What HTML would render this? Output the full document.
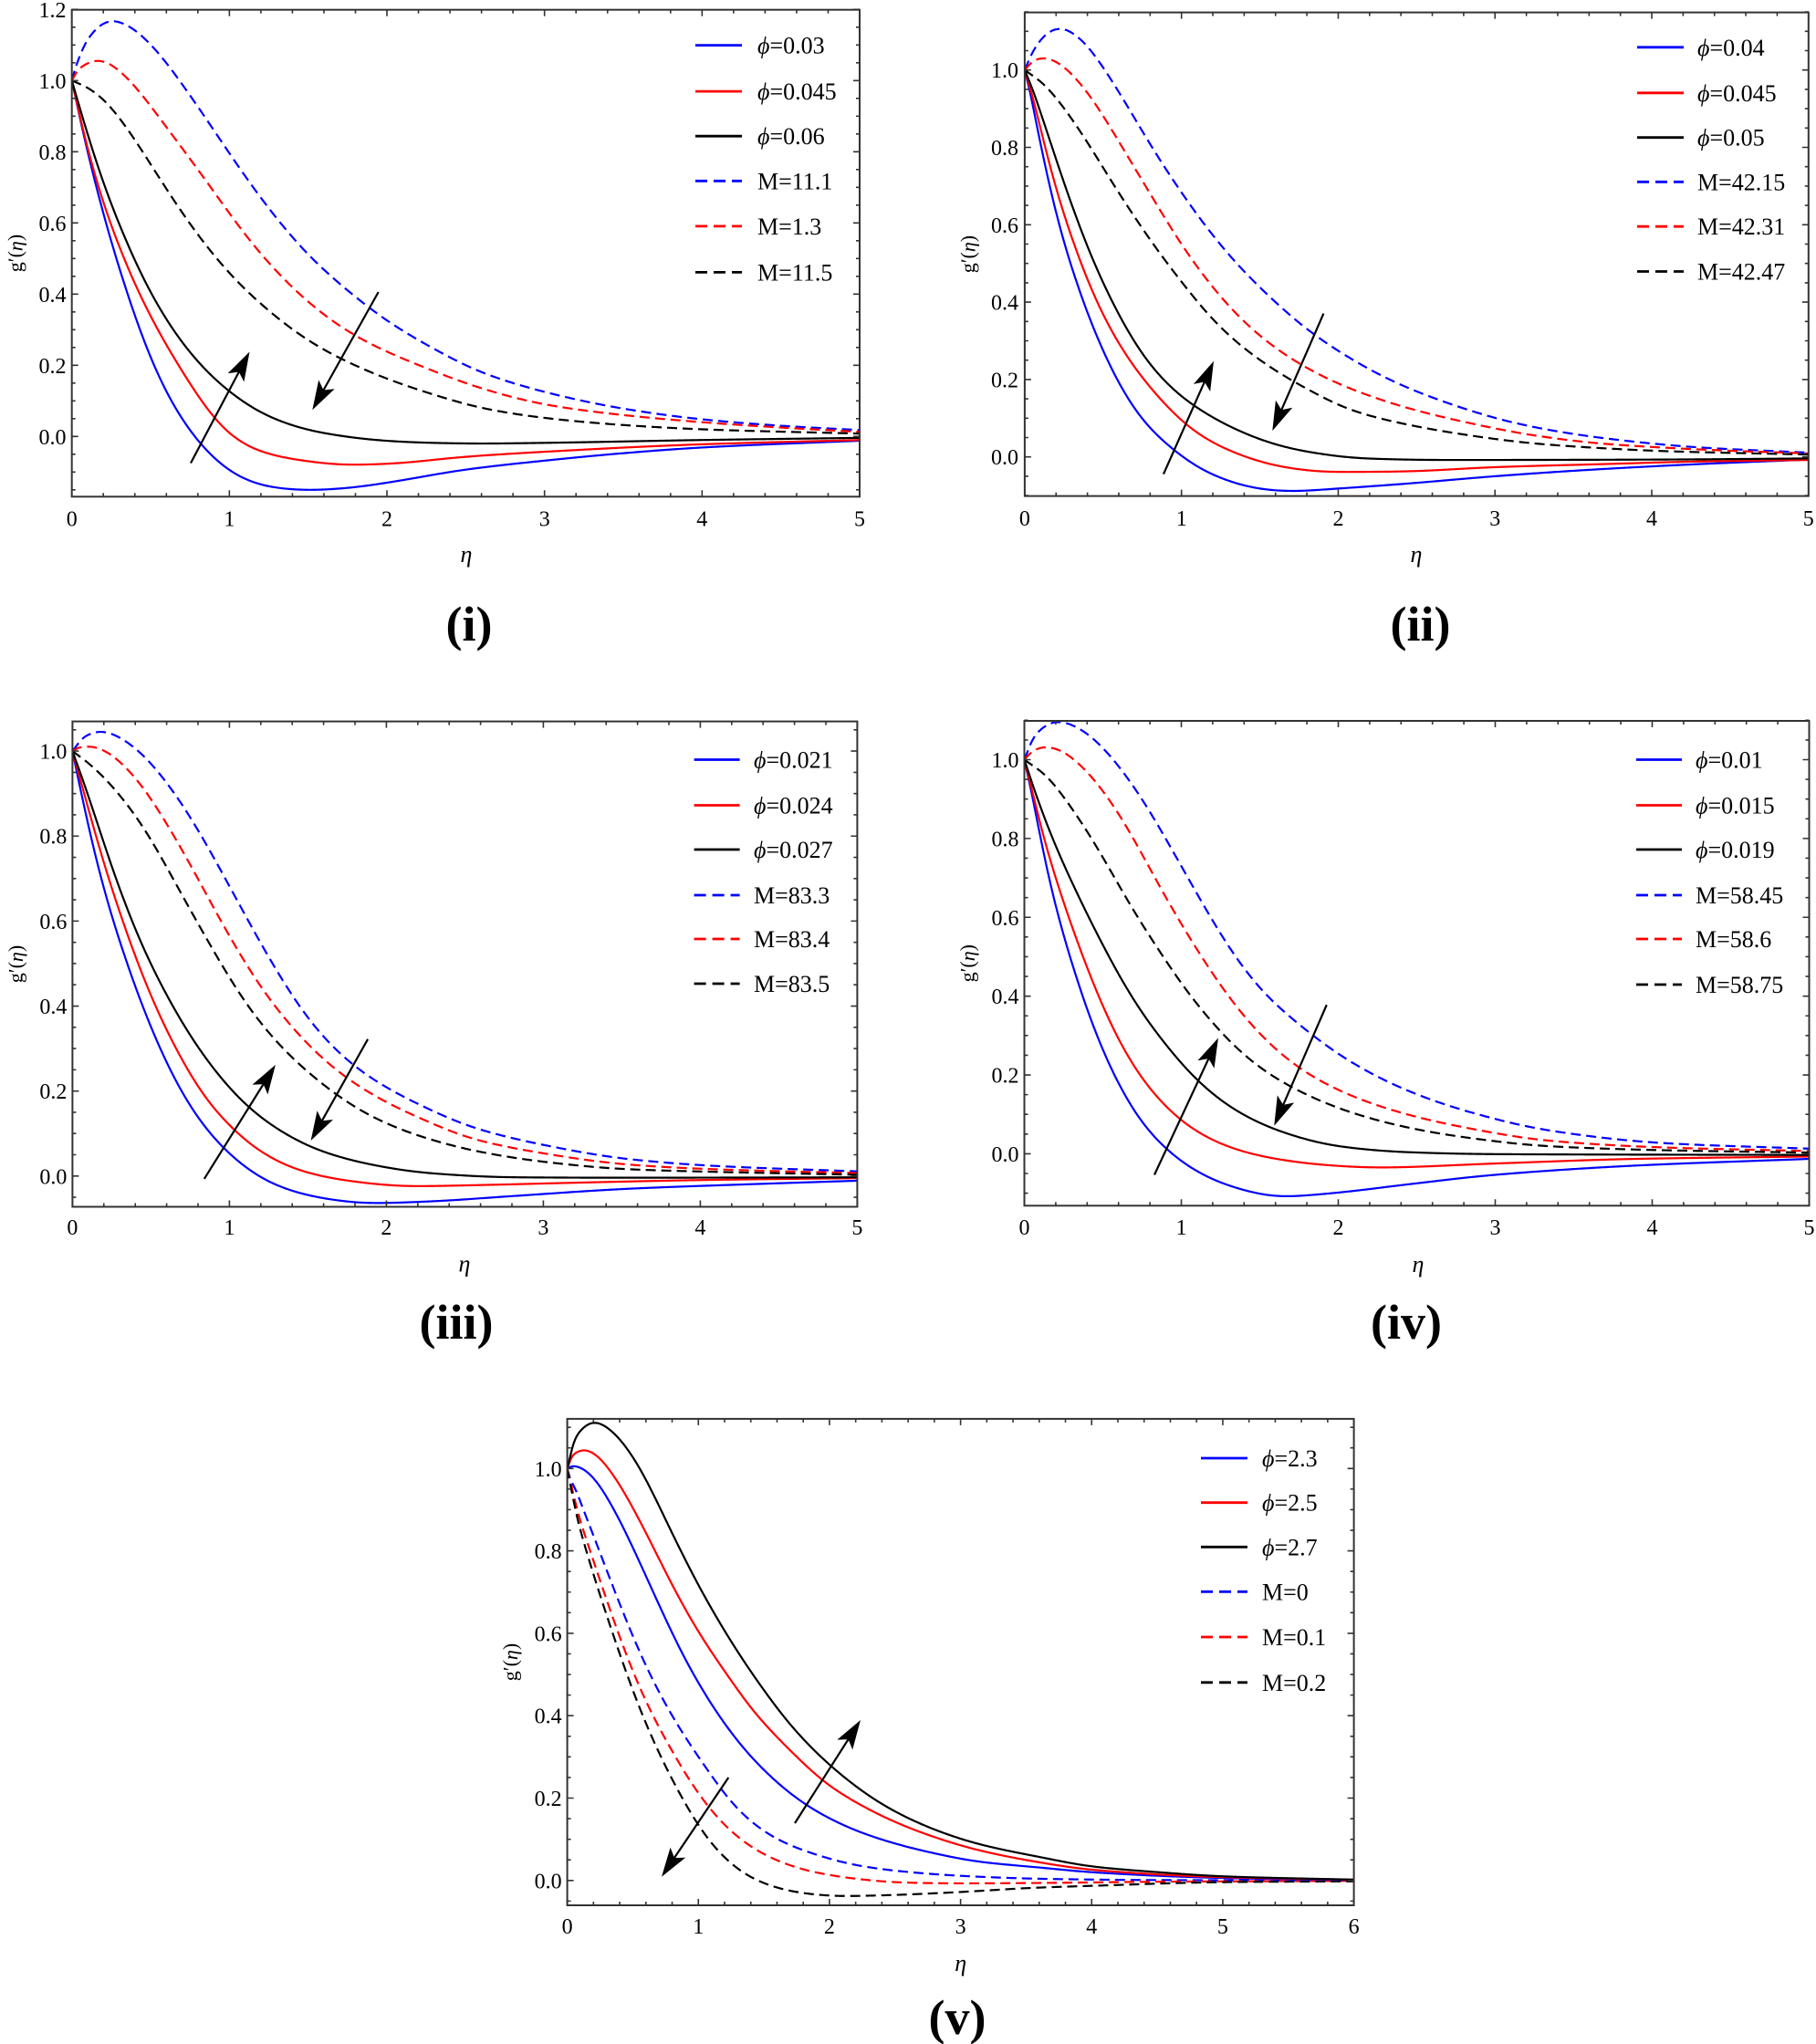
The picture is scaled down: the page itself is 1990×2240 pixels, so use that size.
<!DOCTYPE html>
<html>
<head>
<meta charset="utf-8">
<style>
html,body{margin:0;padding:0;background:#fff;}
svg{display:block;}
text{font-family:"Liberation Serif","DejaVu Serif",serif;fill:#000;}
.t{font-size:24px;}
.lg{font-size:26px;}
.eta{font-size:26px;font-style:italic;}
.yl{font-size:22px;}
.pl{font-size:54px;font-weight:bold;}
</style>
</head>
<body>
<svg id="s" width="1990" height="2240" viewBox="0 0 1990 2240" xmlns="http://www.w3.org/2000/svg">
<rect x="0" y="0" width="1990" height="2240" fill="#fff"/>
<g id="g"></g>

<!-- ===== Panel (i) ===== -->
<g text-anchor="end">
<text class="t" x="72.5" y="486.8">0.0</text>
<text class="t" x="72.5" y="408.8">0.2</text>
<text class="t" x="72.5" y="330.8">0.4</text>
<text class="t" x="72.5" y="252.8">0.6</text>
<text class="t" x="72.5" y="174.8">0.8</text>
<text class="t" x="72.5" y="96.8">1.0</text>
<text class="t" x="72.5" y="18.8">1.2</text>
</g>
<g text-anchor="middle">
<text class="t" x="78.7" y="576.5">0</text>
<text class="t" x="251.4" y="576.5">1</text>
<text class="t" x="424" y="576.5">2</text>
<text class="t" x="596.7" y="576.5">3</text>
<text class="t" x="769.3" y="576.5">4</text>
<text class="t" x="942" y="576.5">5</text>
<text class="eta" x="511" y="616">η</text>
<text class="pl" x="514" y="702">(i)</text>
</g>
<text class="yl" transform="translate(16.5,277.5) rotate(-90)" text-anchor="middle" dominant-baseline="central">g′(<tspan font-style="italic">η</tspan>)</text>
<g>
<text class="lg" x="830" y="58.6"><tspan font-style="italic">ϕ</tspan>=0.03</text>
<text class="lg" x="830" y="109.1"><tspan font-style="italic">ϕ</tspan>=0.045</text>
<text class="lg" x="830" y="158.2"><tspan font-style="italic">ϕ</tspan>=0.06</text>
<text class="lg" x="830" y="207.3">M=11.1</text>
<text class="lg" x="830" y="256.9">M=1.3</text>
<text class="lg" x="830" y="307.4">M=11.5</text>
</g>

<!-- ===== Panel (ii) ===== -->
<g text-anchor="end">
<text class="t" x="1116" y="509.2">0.0</text>
<text class="t" x="1116" y="424.4">0.2</text>
<text class="t" x="1116" y="339.6">0.4</text>
<text class="t" x="1116" y="254.8">0.6</text>
<text class="t" x="1116" y="170">0.8</text>
<text class="t" x="1116" y="85.2">1.0</text>
</g>
<g text-anchor="middle">
<text class="t" x="1122.9" y="576">0</text>
<text class="t" x="1294.7" y="576">1</text>
<text class="t" x="1466.5" y="576">2</text>
<text class="t" x="1638.2" y="576">3</text>
<text class="t" x="1810" y="576">4</text>
<text class="t" x="1981.8" y="576">5</text>
<text class="eta" x="1552" y="616">η</text>
<text class="pl" x="1556.5" y="702">(ii)</text>
</g>
<text class="yl" transform="translate(1060.4,278.6) rotate(-90)" text-anchor="middle" dominant-baseline="central">g′(<tspan font-style="italic">η</tspan>)</text>
<g>
<text class="lg" x="1860" y="60.8"><tspan font-style="italic">ϕ</tspan>=0.04</text>
<text class="lg" x="1860" y="110.8"><tspan font-style="italic">ϕ</tspan>=0.045</text>
<text class="lg" x="1860" y="159.7"><tspan font-style="italic">ϕ</tspan>=0.05</text>
<text class="lg" x="1860" y="208.3">M=42.15</text>
<text class="lg" x="1860" y="257.2">M=42.31</text>
<text class="lg" x="1860" y="306.5">M=42.47</text>
</g>

<!-- ===== Panel (iii) ===== -->
<g text-anchor="end">
<text class="t" x="73.4" y="1297.3">0.0</text>
<text class="t" x="73.4" y="1204.2">0.2</text>
<text class="t" x="73.4" y="1111">0.4</text>
<text class="t" x="73.4" y="1017.9">0.6</text>
<text class="t" x="73.4" y="924.7">0.8</text>
<text class="t" x="73.4" y="831.6">1.0</text>
</g>
<g text-anchor="middle">
<text class="t" x="79.4" y="1353">0</text>
<text class="t" x="251.4" y="1353">1</text>
<text class="t" x="423.4" y="1353">2</text>
<text class="t" x="595.4" y="1353">3</text>
<text class="t" x="767.4" y="1353">4</text>
<text class="t" x="939.4" y="1353">5</text>
<text class="eta" x="509" y="1393.6">η</text>
<text class="pl" x="500" y="1467">(iii)</text>
</g>
<text class="yl" transform="translate(16.9,1056.5) rotate(-90)" text-anchor="middle" dominant-baseline="central">g′(<tspan font-style="italic">η</tspan>)</text>
<g>
<text class="lg" x="826" y="841.5"><tspan font-style="italic">ϕ</tspan>=0.021</text>
<text class="lg" x="826" y="891.5"><tspan font-style="italic">ϕ</tspan>=0.024</text>
<text class="lg" x="826" y="940"><tspan font-style="italic">ϕ</tspan>=0.027</text>
<text class="lg" x="826" y="990">M=83.3</text>
<text class="lg" x="826" y="1038">M=83.4</text>
<text class="lg" x="826" y="1087">M=83.5</text>
</g>

<!-- ===== Panel (iv) ===== -->
<g text-anchor="end">
<text class="t" x="1116.5" y="1272.9">0.0</text>
<text class="t" x="1116.5" y="1186.5">0.2</text>
<text class="t" x="1116.5" y="1100.1">0.4</text>
<text class="t" x="1116.5" y="1013.8">0.6</text>
<text class="t" x="1116.5" y="927.4">0.8</text>
<text class="t" x="1116.5" y="841">1.0</text>
</g>
<g text-anchor="middle">
<text class="t" x="1122.5" y="1353">0</text>
<text class="t" x="1294.5" y="1353">1</text>
<text class="t" x="1466.5" y="1353">2</text>
<text class="t" x="1638.5" y="1353">3</text>
<text class="t" x="1810.5" y="1353">4</text>
<text class="t" x="1982.5" y="1353">5</text>
<text class="eta" x="1554" y="1394">η</text>
<text class="pl" x="1541" y="1467">(iv)</text>
</g>
<text class="yl" transform="translate(1060,1055.7) rotate(-90)" text-anchor="middle" dominant-baseline="central">g′(<tspan font-style="italic">η</tspan>)</text>
<g>
<text class="lg" x="1858" y="841.5"><tspan font-style="italic">ϕ</tspan>=0.01</text>
<text class="lg" x="1858" y="891.5"><tspan font-style="italic">ϕ</tspan>=0.015</text>
<text class="lg" x="1858" y="940"><tspan font-style="italic">ϕ</tspan>=0.019</text>
<text class="lg" x="1858" y="990">M=58.45</text>
<text class="lg" x="1858" y="1038">M=58.6</text>
<text class="lg" x="1858" y="1088">M=58.75</text>
</g>

<!-- ===== Panel (v) ===== -->
<g text-anchor="end">
<text class="t" x="615.6" y="2069.3">0.0</text>
<text class="t" x="615.6" y="1979">0.2</text>
<text class="t" x="615.6" y="1888.7">0.4</text>
<text class="t" x="615.6" y="1798.4">0.6</text>
<text class="t" x="615.6" y="1708.1">0.8</text>
<text class="t" x="615.6" y="1617.8">1.0</text>
</g>
<g text-anchor="middle">
<text class="t" x="621.6" y="2119">0</text>
<text class="t" x="765.3" y="2119">1</text>
<text class="t" x="908.9" y="2119">2</text>
<text class="t" x="1052.6" y="2119">3</text>
<text class="t" x="1196.3" y="2119">4</text>
<text class="t" x="1339.9" y="2119">5</text>
<text class="t" x="1483.6" y="2119">6</text>
<text class="eta" x="1052.7" y="2160">η</text>
<text class="pl" x="1049" y="2229">(v)</text>
</g>
<text class="yl" transform="translate(559,1821.5) rotate(-90)" text-anchor="middle" dominant-baseline="central">g′(<tspan font-style="italic">η</tspan>)</text>
<g>
<text class="lg" x="1383" y="1607"><tspan font-style="italic">ϕ</tspan>=2.3</text>
<text class="lg" x="1383" y="1655.7"><tspan font-style="italic">ϕ</tspan>=2.5</text>
<text class="lg" x="1383" y="1704.3"><tspan font-style="italic">ϕ</tspan>=2.7</text>
<text class="lg" x="1383" y="1753.3">M=0</text>
<text class="lg" x="1383" y="1803">M=0.1</text>
<text class="lg" x="1383" y="1852.8">M=0.2</text>
</g>
</svg>
<script>
(function(){
var NS='http://www.w3.org/2000/svg';
var G=document.getElementById('g');
function el(t,a,parent){var e=document.createElementNS(NS,t);for(var k in a)e.setAttribute(k,a[k]);(parent||G).appendChild(e);return e;}
var COL={b:'#0000ff',r:'#ff0000',k:'#000000'};
var P=[
{L:78.7,R:942,T:10.7,B:544.3,xm:5,y0:478.3,yu:390,
 arrows:[[209,507.5,273.5,385.5],[414.7,320,342.3,449.3]],
 leg:{x1:762,x2:813,ys:[49.6,100.1,149.2,198.3,247.9,298.4]},
 c:{
 bd:[[0,1],[0.03,1.045],[0.12,1.13],[0.27,1.177],[0.41,1.142],[0.56,1.075],[0.70,0.99],[0.85,0.895],[1.0,0.795],[1.25,0.64],[1.5,0.51],[1.75,0.41],[2,0.325],[2.25,0.258],[2.6,0.18],[3,0.125],[3.5,0.078],[4,0.048],[4.5,0.03],[5,0.018]],
 rd:[[0,1],[0.05,1.035],[0.18,1.059],[0.31,1.03],[0.43,0.97],[0.565,0.89],[0.7,0.81],[0.834,0.73],[0.97,0.645],[1.12,0.555],[1.28,0.472],[1.47,0.389],[1.66,0.322],[1.85,0.27],[2.03,0.232],[2.22,0.197],[2.6,0.135],[3,0.09],[3.5,0.06],[4,0.04],[4.5,0.025],[5,0.013]],
 kd:[[0,1],[0.1,0.98],[0.2,0.948],[0.3,0.9],[0.4,0.835],[0.5,0.765],[0.6,0.695],[0.7,0.628],[0.8,0.565],[0.9,0.51],[1.0,0.457],[1.2,0.372],[1.4,0.30],[1.6,0.243],[1.8,0.199],[2,0.162],[2.3,0.117],[2.6,0.08],[3,0.052],[3.5,0.032],[4,0.02],[5,0.008]],
 bs:[[0,1],[0.1,0.80],[0.2,0.625],[0.3,0.47],[0.4,0.335],[0.5,0.215],[0.6,0.12],[0.7,0.045],[0.8,-0.015],[0.9,-0.062],[1.0,-0.098],[1.1,-0.122],[1.25,-0.142],[1.5,-0.151],[1.75,-0.145],[2,-0.13],[2.5,-0.093],[3,-0.068],[3.5,-0.047],[4,-0.031],[5,-0.012]],
 rs:[[0,1],[0.1,0.81],[0.2,0.655],[0.3,0.53],[0.4,0.425],[0.5,0.335],[0.6,0.255],[0.7,0.183],[0.8,0.113],[0.9,0.05],[1.0,0.005],[1.1,-0.025],[1.25,-0.05],[1.5,-0.07],[1.75,-0.08],[2.0,-0.077],[2.5,-0.057],[3,-0.043],[4,-0.022],[5,-0.01]],
 ks:[[0,1],[0.1,0.85],[0.2,0.712],[0.3,0.594],[0.4,0.491],[0.5,0.401],[0.6,0.326],[0.7,0.262],[0.8,0.208],[0.9,0.163],[1.0,0.125],[1.1,0.093],[1.2,0.066],[1.35,0.038],[1.5,0.018],[1.7,0.002],[1.9,-0.009],[2.2,-0.017],[2.6,-0.02],[3,-0.018],[4,-0.01],[5,-0.004]]
 }},
{L:1122.9,R:1981.8,T:13.6,B:543.6,xm:5,y0:500.7,yu:424,
 arrows:[[1275,519.6,1330,395.7],[1450.4,343.6,1394.3,472.1]],
 leg:{x1:1794,x2:1845,ys:[51.8,101.8,150.7,199.3,248.2,297.5]},
 c:{
 bd:[[0,1],[0.062,1.055],[0.146,1.097],[0.229,1.113],[0.333,1.097],[0.437,1.046],[0.561,0.97],[0.686,0.886],[0.81,0.80],[0.956,0.709],[1.1,0.625],[1.227,0.558],[1.372,0.49],[1.538,0.423],[1.746,0.347],[1.975,0.28],[2.35,0.195],[2.72,0.136],[3.1,0.09],[3.47,0.061],[3.87,0.04],[4.28,0.025],[5,0.011]],
 rd:[[0,1],[0.062,1.025],[0.125,1.032],[0.229,1.017],[0.333,0.979],[0.457,0.912],[0.582,0.827],[0.707,0.743],[0.832,0.659],[0.956,0.575],[1.1,0.49],[1.247,0.414],[1.393,0.351],[1.559,0.293],[1.746,0.242],[1.995,0.19],[2.41,0.13],[2.83,0.088],[3.24,0.056],[3.66,0.035],[4.07,0.024],[4.49,0.016],[5,0.009]],
 kd:[[0,1],[0.125,0.962],[0.25,0.903],[0.353,0.844],[0.457,0.777],[0.582,0.692],[0.707,0.617],[0.832,0.541],[0.977,0.465],[1.123,0.389],[1.289,0.318],[1.455,0.263],[1.642,0.212],[1.85,0.165],[2.058,0.124],[2.41,0.086],[2.83,0.056],[3.24,0.035],[3.66,0.023],[4.07,0.015],[5,0.006]],
 bs:[[0,1],[0.042,0.928],[0.083,0.844],[0.135,0.743],[0.187,0.65],[0.249,0.549],[0.322,0.457],[0.395,0.372],[0.499,0.271],[0.624,0.17],[0.748,0.094],[0.873,0.044],[0.998,0.002],[1.123,-0.032],[1.289,-0.061],[1.497,-0.083],[1.705,-0.089],[1.954,-0.083],[2.41,-0.07],[3.03,-0.049],[3.66,-0.032],[4.28,-0.019],[5,-0.007]],
 rs:[[0,1],[0.052,0.928],[0.104,0.844],[0.166,0.743],[0.229,0.65],[0.312,0.549],[0.395,0.457],[0.499,0.364],[0.603,0.288],[0.748,0.204],[0.894,0.136],[1.04,0.078],[1.206,0.035],[1.393,0.002],[1.642,-0.026],[1.954,-0.039],[2.37,-0.038],[3.03,-0.026],[3.66,-0.019],[4.28,-0.012],[5,-0.008]],
 ks:[[0,1],[0.062,0.937],[0.125,0.861],[0.208,0.76],[0.291,0.659],[0.374,0.566],[0.478,0.465],[0.582,0.381],[0.707,0.288],[0.832,0.221],[0.977,0.162],[1.123,0.12],[1.289,0.082],[1.455,0.052],[1.642,0.027],[1.85,0.01],[2.16,-0.004],[2.68,-0.008],[4,-0.007],[5,-0.004]]
 }},
{L:79.4,R:939.4,T:790.6,B:1322.5,xm:5,y0:1288.8,yu:465.7,
 arrows:[[223.8,1291.9,301.9,1166.9],[403.1,1138.8,340.6,1250]],
 leg:{x1:760.6,x2:810.6,ys:[832.5,882.5,931,981,1029,1078]},
 c:{
 bd:[[0,1],[0.084,1.036],[0.193,1.048],[0.338,1.027],[0.483,0.98],[0.629,0.913],[0.774,0.832],[0.919,0.737],[1.065,0.638],[1.21,0.54],[1.355,0.45],[1.5,0.37],[1.719,0.282],[1.937,0.222],[2.227,0.165],[2.554,0.114],[2.99,0.074],[3.536,0.04],[4.08,0.024],[5,0.011]],
 rd:[[0,1],[0.05,1.009],[0.12,1.011],[0.193,1.004],[0.338,0.966],[0.483,0.899],[0.629,0.812],[0.774,0.718],[0.919,0.617],[1.065,0.523],[1.21,0.438],[1.355,0.369],[1.5,0.309],[1.719,0.238],[1.937,0.186],[2.227,0.134],[2.554,0.087],[2.99,0.054],[3.536,0.027],[4.08,0.016],[5,0.007]],
 kd:[[0,1],[0.12,0.966],[0.265,0.913],[0.41,0.846],[0.556,0.758],[0.701,0.658],[0.847,0.564],[0.992,0.47],[1.137,0.389],[1.283,0.322],[1.428,0.268],[1.646,0.201],[1.864,0.148],[2.155,0.101],[2.554,0.06],[2.99,0.034],[3.536,0.016],[4.08,0.01],[5,0.003]],
 bs:[[0,1],[0.065,0.886],[0.156,0.738],[0.265,0.59],[0.374,0.47],[0.483,0.362],[0.629,0.242],[0.774,0.148],[0.919,0.081],[1.101,0.02],[1.283,-0.02],[1.573,-0.051],[1.9,-0.064],[2.264,-0.06],[2.81,-0.047],[3.536,-0.03],[4.26,-0.02],[5,-0.011]],
 rs:[[0,1],[0.065,0.913],[0.156,0.792],[0.265,0.658],[0.392,0.523],[0.52,0.403],[0.665,0.295],[0.81,0.201],[0.992,0.121],[1.21,0.054],[1.464,0.011],[1.791,-0.013],[2.155,-0.024],[2.627,-0.021],[3.17,-0.016],[4.08,-0.009],[5,-0.005]],
 ks:[[0,1],[0.084,0.913],[0.193,0.792],[0.302,0.671],[0.447,0.537],[0.592,0.43],[0.738,0.336],[0.919,0.242],[1.101,0.168],[1.319,0.107],[1.573,0.06],[1.9,0.027],[2.264,0.007],[2.81,-0.003],[3.5,-0.004],[5,-0.003]]
 }},
{L:1122.5,R:1982.5,T:790,B:1321.3,xm:5,y0:1264.4,yu:431.9,
 arrows:[[1265,1287.5,1335,1137.5],[1453.75,1101.25,1396.25,1233.75]],
 leg:{x1:1793,x2:1843,ys:[832.5,882.5,931,981,1029,1079]},
 c:{
 bd:[[0,1],[0.073,1.065],[0.218,1.1],[0.363,1.08],[0.509,1.029],[0.654,0.957],[0.8,0.87],[0.945,0.768],[1.09,0.667],[1.235,0.566],[1.38,0.479],[1.526,0.407],[1.708,0.342],[1.89,0.284],[2.108,0.226],[2.435,0.161],[2.8,0.11],[3.343,0.059],[4.07,0.027],[5,0.013]],
 rd:[[0,1],[0.05,1.02],[0.127,1.033],[0.254,1.022],[0.4,0.971],[0.545,0.899],[0.69,0.805],[0.836,0.696],[0.981,0.595],[1.126,0.501],[1.272,0.414],[1.417,0.34],[1.599,0.265],[1.817,0.2],[2.108,0.143],[2.435,0.1],[2.8,0.067],[3.343,0.033],[4.07,0.016],[5,0.007]],
 kd:[[0,1],[0.145,0.957],[0.291,0.884],[0.436,0.797],[0.581,0.696],[0.727,0.595],[0.872,0.508],[1.017,0.421],[1.163,0.349],[1.308,0.284],[1.526,0.211],[1.78,0.153],[2.071,0.106],[2.435,0.067],[2.8,0.042],[3.343,0.019],[4.07,0.009],[5,0.003]],
 bs:[[0,1],[0.055,0.899],[0.127,0.754],[0.218,0.595],[0.327,0.45],[0.436,0.32],[0.581,0.19],[0.727,0.088],[0.872,0.023],[1.054,-0.035],[1.308,-0.082],[1.635,-0.109],[1.962,-0.1],[2.435,-0.078],[2.98,-0.054],[3.89,-0.03],[5,-0.013]],
 rs:[[0,1],[0.055,0.913],[0.127,0.797],[0.236,0.653],[0.363,0.508],[0.509,0.363],[0.654,0.247],[0.836,0.146],[1.054,0.067],[1.308,0.016],[1.599,-0.013],[1.962,-0.03],[2.253,-0.035],[2.98,-0.025],[3.89,-0.013],[5,-0.007]],
 ks:[[0,1],[0.073,0.913],[0.182,0.797],[0.327,0.667],[0.509,0.522],[0.69,0.392],[0.872,0.291],[1.09,0.19],[1.344,0.11],[1.635,0.056],[1.999,0.019],[2.435,0.004],[3,-0.001],[5,-0.003]]
 }},
{L:621.6,R:1483.6,T:1554.9,B:2088,xm:6,y0:2060.8,yu:451.5,
 arrows:[[798.3,1948,725,2056.7],[871,1998,943,1885]],
 leg:{x1:1316,x2:1367,ys:[1598,1646.7,1695.3,1744.3,1794,1843.8]},
 c:{
 bd:[[0,1],[0.023,0.975],[0.07,0.945],[0.139,0.886],[0.232,0.812],[0.325,0.731],[0.418,0.657],[0.51,0.583],[0.603,0.517],[0.696,0.458],[0.812,0.392],[0.928,0.333],[1.044,0.281],[1.16,0.226],[1.276,0.18],[1.438,0.133],[1.624,0.096],[1.856,0.067],[2.204,0.037],[2.552,0.022],[3.016,0.011],[3.62,0.004],[4.5,0.001],[6,0]],
 rd:[[0,1],[0.023,0.97],[0.093,0.879],[0.162,0.812],[0.255,0.724],[0.348,0.635],[0.441,0.554],[0.534,0.48],[0.626,0.414],[0.742,0.347],[0.858,0.281],[0.974,0.222],[1.114,0.163],[1.276,0.111],[1.438,0.074],[1.624,0.045],[1.856,0.022],[2.204,0.004],[2.552,-0.005],[3.016,-0.007],[3.62,-0.006],[4.5,-0.003],[6,-0.001]],
 kd:[[0,1],[0.023,0.962],[0.093,0.857],[0.162,0.783],[0.232,0.709],[0.325,0.62],[0.418,0.532],[0.51,0.45],[0.603,0.377],[0.696,0.31],[0.812,0.237],[0.928,0.17],[1.044,0.111],[1.206,0.052],[1.392,0.008],[1.6,-0.018],[1.8,-0.031],[2.09,-0.038],[2.41,-0.036],[3.0,-0.028],[3.54,-0.018],[4,-0.013],[5,-0.004],[6,-0.002]],
 bs:[[0,1],[0.046,1.006],[0.116,1.0],[0.232,0.967],[0.348,0.908],[0.464,0.834],[0.58,0.753],[0.696,0.672],[0.812,0.591],[0.928,0.519],[1.044,0.455],[1.206,0.377],[1.392,0.303],[1.578,0.244],[1.763,0.196],[1.972,0.155],[2.227,0.118],[2.506,0.089],[2.784,0.067],[3.13,0.046],[3.62,0.031],[4,0.02],[5,0.006],[6,0.001]],
 rs:[[0,1],[0.046,1.034],[0.139,1.046],[0.278,1.019],[0.418,0.952],[0.534,0.886],[0.673,0.798],[0.812,0.709],[0.928,0.642],[1.067,0.569],[1.23,0.495],[1.392,0.421],[1.578,0.355],[1.763,0.296],[1.972,0.236],[2.227,0.185],[2.506,0.141],[2.784,0.107],[3.13,0.074],[3.62,0.043],[4,0.026],[5,0.008],[6,0.002]],
 ks:[[0,1],[0.07,1.08],[0.22,1.116],[0.348,1.093],[0.464,1.048],[0.603,0.975],[0.742,0.88],[0.882,0.79],[0.974,0.731],[1.09,0.665],[1.206,0.602],[1.346,0.532],[1.508,0.458],[1.694,0.38],[1.9,0.31],[2.02,0.275],[2.227,0.222],[2.46,0.174],[2.78,0.126],[3.13,0.089],[3.62,0.056],[4,0.034],[4.47,0.021],[5,0.01],[6,0.002]]
 }}
];
function f(n){return Math.round(n*100)/100;}
function pchip(pts){
  var n=pts.length,x=[],y=[],h=[],d=[],m=[];
  for(var i=0;i<n;i++){x.push(pts[i][0]);y.push(pts[i][1]);}
  for(var i=0;i<n-1;i++){h.push(x[i+1]-x[i]);d.push((y[i+1]-y[i])/h[i]);}
  m[0]=d[0];m[n-1]=d[n-2];
  for(var k=1;k<n-1;k++){
    if(d[k-1]*d[k]<=0){m[k]=0;}
    else{var w1=2*h[k]+h[k-1],w2=h[k]+2*h[k-1];m[k]=(w1+w2)/(w1/d[k-1]+w2/d[k]);}
  }
  return function(t){
    if(t<=x[0])return y[0];
    if(t>=x[n-1])return y[n-1];
    var k=0;while(k<n-2&&t>x[k+1])k++;
    var s=(t-x[k])/h[k],s2=s*s,s3=s2*s;
    return (2*s3-3*s2+1)*y[k]+(s3-2*s2+s)*h[k]*m[k]+(-2*s3+3*s2)*y[k+1]+(s3-s2)*h[k]*m[k+1];
  };
}
function smoothSample(pts,xm){
  var F=pchip(pts),st=0.005,N=Math.round(xm/st),s=[];
  for(var i=0;i<=N;i++)s.push(F(i*st));
  for(var pass=0;pass<2;pass++){
    var o=[];
    for(var i=0;i<=N;i++){
      var e=i*st,w=Math.min(0.1,0.3*e,xm-e),k=Math.round(w/st);
      if(k<1){o.push(s[i]);continue;}
      var sum=0;for(var j=i-k;j<=i+k;j++)sum+=s[j];
      o.push(sum/(2*k+1));
    }
    s=o;
  }
  var out=[];for(var i=0;i<=N;i+=2)out.push([i*st,s[i]]);
  return out;
}
var defs=el('defs',{});
P.forEach(function(p,i){
  var X=function(x){return p.L+x*(p.R-p.L)/p.xm;};
  var Y=function(v){return p.y0-v*p.yu;};
  var cp=el('clipPath',{id:'c'+i},defs);
  el('rect',{x:p.L,y:p.T,width:p.R-p.L,height:p.B-p.T},cp);
  ['bd','rd','kd','bs','rs','ks'].forEach(function(key){
    var pts=smoothSample(p.c[key],p.xm);
    var d='M'+f(X(pts[0][0]))+' '+f(Y(pts[0][1]));
    for(var j=1;j<pts.length;j++)d+='L'+f(X(pts[j][0]))+' '+f(Y(pts[j][1]));
    var a={d:d,fill:'none',stroke:COL[key[0]],'stroke-width':2.2,'stroke-linejoin':'round','clip-path':'url(#c'+i+')'};
    if(key[1]==='d')a['stroke-dasharray']='11 6';
    el('path',a);
  });
  var d='';
  for(var k=0;k<=p.xm*5;k++){
    var x=f(X(k/5)),len=(k%5===0)?7:4;
    d+='M'+x+' '+p.B+'v'+(-len)+'M'+x+' '+p.T+'v'+len;
  }
  var vmin=(p.y0-p.B)/p.yu,vmax=(p.y0-p.T)/p.yu;
  var k0=Math.ceil(vmin/0.05-0.05),k1=Math.floor(vmax/0.05+0.05);
  for(var k=k0;k<=k1;k++){
    var y=f(Y(k*0.05)),len=(((k%4)+4)%4===0)?7:4;
    d+='M'+p.L+' '+y+'h'+len+'M'+p.R+' '+y+'h'+(-len);
  }
  el('path',{d:d,stroke:'#333','stroke-width':1.6,fill:'none'});
  el('rect',{x:p.L,y:p.T,width:p.R-p.L,height:p.B-p.T,fill:'none',stroke:'#333','stroke-width':2});
  p.arrows.forEach(function(a){
    var x1=a[0],y1=a[1],x2=a[2],y2=a[3];
    var dx=x2-x1,dy=y2-y1,l=Math.hypot(dx,dy),ux=dx/l,uy=dy/l,hl=32,hw=10;
    var bx=x2-ux*hl,by=y2-uy*hl;
    el('line',{x1:x1,y1:y1,x2:f(bx+ux*8),y2:f(by+uy*8),stroke:'#000','stroke-width':2.2});
    el('polygon',{points:x2+','+y2+' '+f(bx-uy*hw)+','+f(by+ux*hw)+' '+f(bx+ux*7)+','+f(by+uy*7)+' '+f(bx+uy*hw)+','+f(by-ux*hw),fill:'#000'});
  });
  var cols=['b','r','k','b','r','k'];
  p.leg.ys.forEach(function(y,j){
    var a={x1:p.leg.x1,y1:y,x2:p.leg.x2,y2:y,stroke:COL[cols[j]],'stroke-width':2.8};
    if(j>=3)a['stroke-dasharray']='13 7';
    el('line',a);
  });
});
})();
</script>
</body>
</html>
